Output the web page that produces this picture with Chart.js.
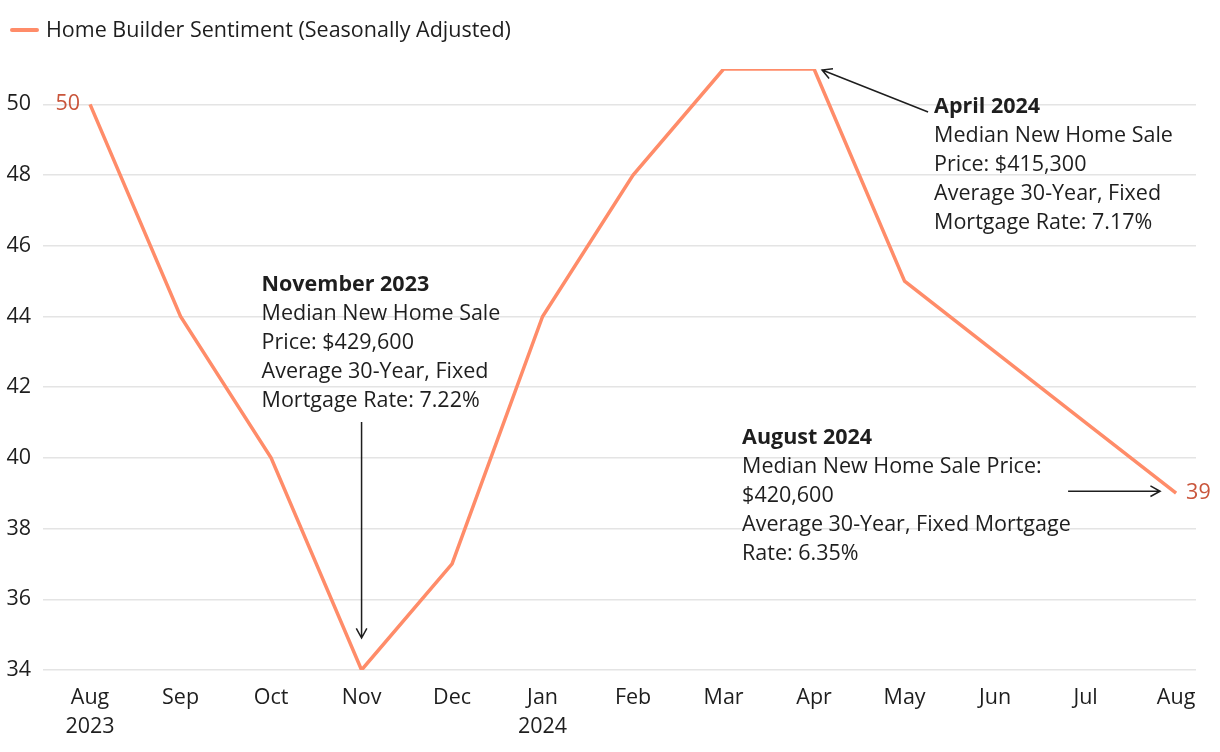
<!DOCTYPE html>
<html>
<head>
<meta charset="utf-8">
<script src="https://cdn.jsdelivr.net/npm/chart.js@4/dist/chart.umd.min.js"></script>
<style>
  html, body { margin: 0; padding: 0; background: #fff; }
  #wrap { width: 1220px; height: 752px; }
</style>
</head>
<body>
<div id="wrap"><canvas id="lineChart"></canvas></div>
<script>
var months = ["Aug", "Sep", "Oct", "Nov", "Dec", "Jan", "Feb", "Mar", "Apr", "May", "Jun", "Jul", "Aug"];
var years = ["2023", "", "", "", "", "2024", "", "", "", "", "", "", ""];
var sentiment = [50, 44, 40, 34, 37, 44, 48, 51, 51, 45, 43, 41, 39];
var yTicks = [34, 36, 38, 40, 42, 44, 46, 48, 50];

var seriesName = 'Home Builder Sentiment (Seasonally Adjusted)';
var lineColor = '#ff8c69';
var labelColor = '#c9553b';
var textColor = '#1e1e1e';
var fontFamily = '"Open Sans", "Noto Sans", sans-serif';
var fontSize = 21.5;

// notes: index into data, text lines (first one bold)
var notes = [
    {i: 3, lines: ['November 2023', 'Median New Home Sale', 'Price: $429,600', 'Average 30-Year, Fixed', 'Mortgage Rate: 7.22%']},
    {i: 8, lines: ['April 2024', 'Median New Home Sale', 'Price: $415,300', 'Average 30-Year, Fixed', 'Mortgage Rate: 7.17%']},
    {i: 12, lines: ['August 2024', 'Median New Home Sale Price:', '$420,600', 'Average 30-Year, Fixed Mortgage', 'Rate: 6.35%']}
];

var points = sentiment.map(function (v, i) { return {x: i, y: v}; });

function arrow(ctx, x1, y1, x2, y2) {
    var a = Math.atan2(y2 - y1, x2 - x1);
    var h = 11;
    ctx.beginPath();
    ctx.moveTo(x1, y1);
    ctx.lineTo(x2, y2);
    ctx.moveTo(x2 - h * Math.cos(a - 0.5), y2 - h * Math.sin(a - 0.5));
    ctx.lineTo(x2, y2);
    ctx.lineTo(x2 - h * Math.cos(a + 0.5), y2 - h * Math.sin(a + 0.5));
    ctx.stroke();
}

var extras = {
    id: 'extras',
    afterDraw: function (chart) {
        var ctx = chart.ctx;
        var xs = chart.scales.x, ys = chart.scales.y;
        ctx.save();

        // legend
        ctx.strokeStyle = lineColor;
        ctx.lineWidth = 4;
        ctx.lineCap = 'round';
        ctx.beginPath();
        ctx.moveTo(12, 30);
        ctx.lineTo(37, 30);
        ctx.stroke();
        ctx.fillStyle = textColor;
        ctx.font = fontSize + 'px ' + fontFamily;
        ctx.textBaseline = 'middle';
        ctx.textAlign = 'left';
        ctx.fillText(seriesName, 46, 31);

        // first and last values
        var n = sentiment.length - 1;
        ctx.fillStyle = labelColor;
        ctx.textAlign = 'right';
        ctx.fillText(sentiment[0], xs.getPixelForValue(0) - 10, ys.getPixelForValue(sentiment[0]));
        ctx.textAlign = 'left';
        ctx.fillText(sentiment[n], xs.getPixelForValue(n) + 10, ys.getPixelForValue(sentiment[n]));

        // annotations
        var spots = [
            {dx: -100, dy: -385},
            {dx: 120, dy: 38},
            {dx: -434, dy: -55}
        ];
        ctx.textAlign = 'left';
        notes.forEach(function (nt, k) {
            var px = xs.getPixelForValue(nt.i);
            var py = ys.getPixelForValue(sentiment[nt.i]);
            var tx = px + spots[k].dx, ty = py + spots[k].dy;
            nt.lines.forEach(function (ln, j) {
                ctx.font = (j === 0 ? 'bold ' : '') + fontSize + 'px ' + fontFamily;
                ctx.fillStyle = textColor;
                ctx.fillText(ln, tx, ty + j * 29);
            });
        });

        ctx.strokeStyle = '#1e1e1e';
        ctx.lineWidth = 1.5;
        ctx.lineCap = 'butt';
        var p3x = xs.getPixelForValue(3), p3y = ys.getPixelForValue(sentiment[3]);
        arrow(ctx, p3x, p3y - 248, p3x, p3y - 32);
        var p8x = xs.getPixelForValue(8), p8y = ys.getPixelForValue(sentiment[8]);
        arrow(ctx, p8x + 114, p8y + 43, p8x + 8, p8y + 1);
        var pLx = xs.getPixelForValue(n), pLy = ys.getPixelForValue(sentiment[n]);
        arrow(ctx, pLx - 108, pLy - 2, pLx - 16, pLy - 2);

        ctx.restore();
    }
};

var lineChart = new Chart(document.getElementById('lineChart'), {
    type: 'line',
    data: {
        datasets: [{
            label: seriesName,
            data: points,
            borderColor: lineColor,
            backgroundColor: lineColor,
            borderWidth: 3.5,
            pointRadius: 0,
            tension: 0
        }]
    },
    options: {
        responsive: true,
        maintainAspectRatio: false,
        animation: false,
        layout: {padding: {top: 69, right: 24, left: 0, bottom: 0}},
        plugins: {
            legend: {display: false},
            tooltip: {enabled: false}
        },
        scales: {
            x: {
                type: 'linear',
                min: -0.52,
                max: 12.22,
                afterBuildTicks: function (scale) {
                    scale.ticks = months.map(function (m, i) { return {value: i}; });
                },
                afterFit: function (scale) { scale.height = 82; },
                grid: {display: false},
                border: {display: false},
                ticks: {
                    autoSkip: false,
                    maxRotation: 0,
                    padding: 5,
                    color: textColor,
                    font: {family: fontFamily, size: fontSize, lineHeight: 1.35},
                    callback: function (v) {
                        var i = Math.round(v);
                        return years[i] ? [months[i], years[i]] : months[i];
                    }
                }
            },
            y: {
                min: 34,
                max: 51,
                afterBuildTicks: function (scale) {
                    scale.ticks = yTicks.map(function (v) { return {value: v}; });
                },
                afterFit: function (scale) { scale.width = 43; },
                grid: {color: '#e4e4e4', lineWidth: 1.5, drawTicks: false},
                border: {display: false},
                ticks: {
                    padding: 12,
                    color: textColor,
                    font: {family: fontFamily, size: fontSize}
                }
            }
        }
    },
    plugins: [extras]
});
</script>
</body>
</html>
